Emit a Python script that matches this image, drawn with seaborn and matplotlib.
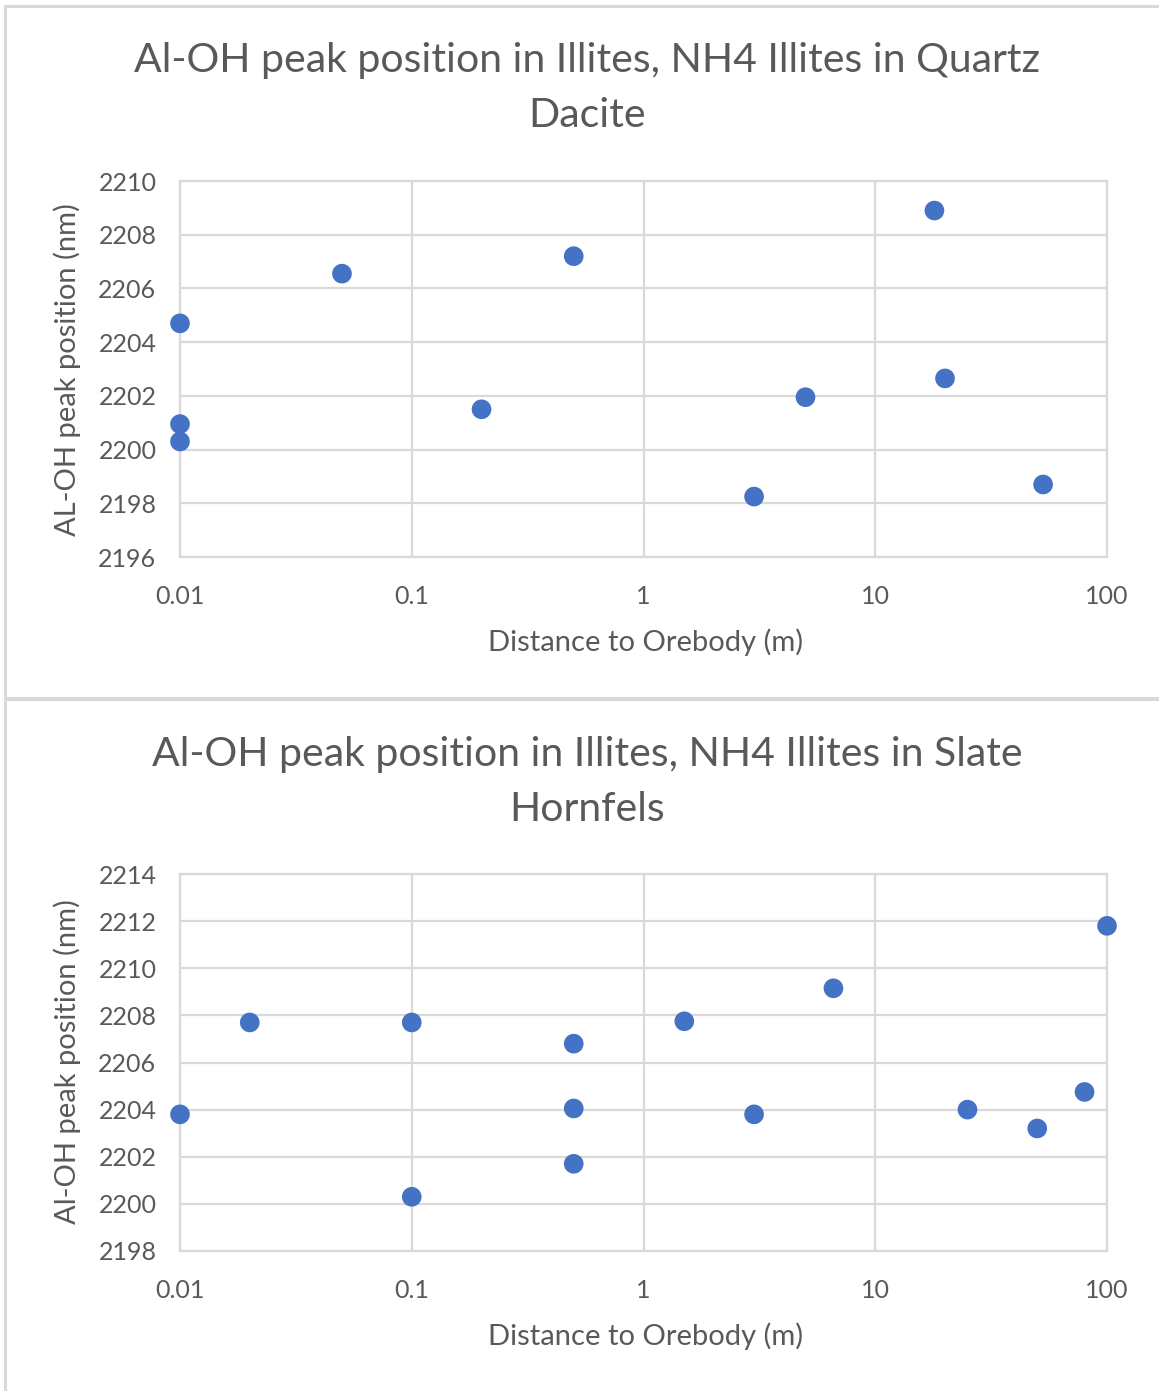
import matplotlib
matplotlib.use("Agg")
import matplotlib.pyplot as plt
import seaborn as sns
import pandas as pd
from matplotlib.patches import Rectangle

# ---- data ----
dacite_distance = [0.01, 0.01, 0.01, 0.05, 0.2, 0.5, 3, 5, 18, 20, 53]
dacite_peak = [2204.7, 2200.95, 2200.3, 2206.55, 2201.5, 2207.2, 2198.25, 2201.95, 2208.9, 2202.65, 2198.7]

slate_distance = [0.01, 0.02, 0.1, 0.1, 0.5, 0.5, 0.5, 1.5, 3, 6.6, 25, 50, 80, 100]
slate_peak = [2203.8, 2207.7, 2207.7, 2200.3, 2206.8, 2204.05, 2201.7, 2207.75, 2203.8, 2209.15, 2204.0, 2203.2, 2204.75, 2211.8]

x_ticks = [0.01, 0.1, 1, 10, 100]
x_tick_labels = ["0.01", "0.1", "1", "10", "100"]
top_y_ticks = list(range(2196, 2211, 2))
bottom_y_ticks = list(range(2198, 2215, 2))

top_title = "Al-OH peak position in Illites, NH4 Illites in Quartz\nDacite"
bottom_title = "Al-OH peak position in Illites, NH4 Illites in Slate\nHornfels"
x_label = "Distance to Orebody (m)"
top_y_label = "AL-OH peak position (nm)"
bottom_y_label = "Al-OH peak position (nm)"

# ---- style ----
sns.set_theme(style="white")
plt.rcParams['font.family'] = ['Lato', 'DejaVu Sans']
TEXT = "#595959"
GRID = "#d9d9d9"
BLUE = "#4472C4"

W, H = 1159, 1391
fig = plt.figure(figsize=(W / 100, H / 100), dpi=100)
fig.patch.set_facecolor("white")

def px_axes(l, t, r, b):
    return fig.add_axes([l / W, 1 - b / H, (r - l) / W, (b - t) / H])

def fx(x):
    return x / W

def fy(y):
    return 1 - y / H

# outer chart borders
for (x0, y0, x1, y1) in [(5, 6, 1162, 698), (5, 699, 1162, 1395)]:
    fig.patches.append(Rectangle((fx(x0), fy(y1)), (x1 - x0) / W, (y1 - y0) / H,
                                 transform=fig.transFigure, fill=False,
                                 edgecolor=GRID, linewidth=2.2, zorder=0))

def draw(ax, xs, ys, yticks, ylim):
    df = pd.DataFrame({"d": xs, "p": ys})
    sns.scatterplot(data=df, x="d", y="p", ax=ax, color=BLUE, s=200,
                    edgecolor="none", linewidth=0, clip_on=False, zorder=5)
    ax.set_xscale("log")
    ax.set_xlim(0.01, 100)
    ax.set_ylim(*ylim)
    ax.set_xticks(x_ticks)
    ax.set_xticklabels(x_tick_labels)
    ax.xaxis.set_minor_locator(matplotlib.ticker.NullLocator())
    ax.set_yticks(yticks)
    ax.set_yticklabels([str(v) for v in yticks])
    ax.grid(True, which="major", color=GRID, linewidth=1.6)
    ax.set_axisbelow(True)
    for s in ax.spines.values():
        s.set_visible(True)
        s.set_color(GRID)
        s.set_linewidth(1.6)
    ax.tick_params(axis="both", length=0, labelcolor=TEXT, labelsize=18)
    ax.tick_params(axis="y", pad=17)
    ax.tick_params(axis="x", pad=20)
    ax.set_xlabel("")
    ax.set_ylabel("")

ax1 = px_axes(180, 181, 1107, 557)
draw(ax1, dacite_distance, dacite_peak, top_y_ticks, (2196, 2210))
ax2 = px_axes(180, 874, 1107, 1251)
draw(ax2, slate_distance, slate_peak, bottom_y_ticks, (2198, 2214))

# titles and axis labels
fig.text(fx(587), fy(88), top_title, ha="center", va="center", fontsize=29.5,
         color=TEXT, linespacing=1.6)
fig.text(fx(587), fy(782), bottom_title, ha="center", va="center", fontsize=29.5,
         color=TEXT, linespacing=1.6)
fig.text(fx(646), fy(642), x_label, ha="center", va="center", fontsize=21, color=TEXT)
fig.text(fx(646), fy(1336), x_label, ha="center", va="center", fontsize=21, color=TEXT)
fig.text(fx(67), fy(370), top_y_label, ha="center", va="center", rotation=90,
         fontsize=21, color=TEXT)
fig.text(fx(67), fy(1062), bottom_y_label, ha="center", va="center", rotation=90,
         fontsize=21, color=TEXT)

fig.savefig("out.png", dpi=100, facecolor="white")
